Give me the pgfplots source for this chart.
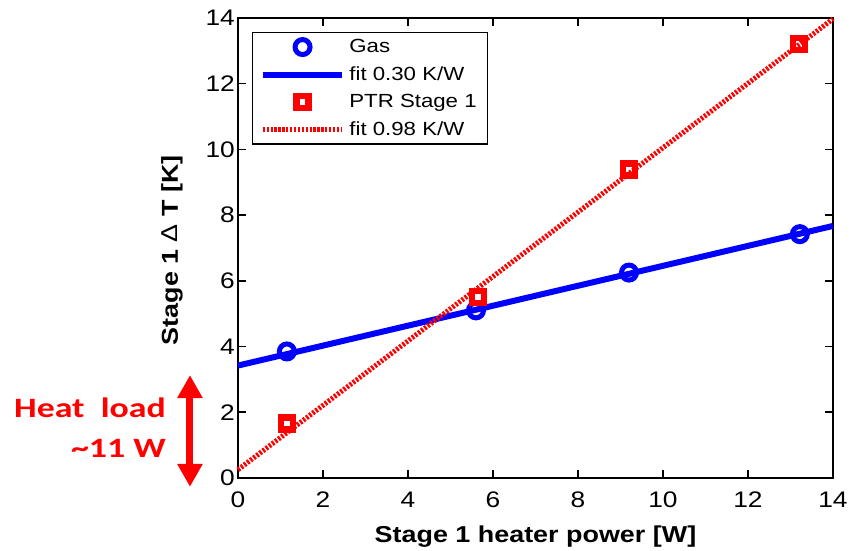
\documentclass[border=0pt]{standalone}
\usepackage{fontspec}
\setmainfont{Liberation Sans}[FakeStretch=1.17]
\newfontfamily\calibri{Carlito}[FakeStretch=1.28]
\usepackage{pgfplots}
\pgfplotsset{compat=1.18}
\usetikzlibrary{arrows.meta}
\definecolor{myblue}{RGB}{0,0,255}
\definecolor{myred}{RGB}{255,0,0}
\pgfplotsset{
  markleg/.style={legend image code/.code={\draw[##1] plot coordinates {(1.4cm,0cm)};}},
  lineleg/.style={legend image code/.code={\draw[##1] plot coordinates {(0cm,0cm) (2.8cm,0cm)};}},
}
\begin{document}
\begin{tikzpicture}
\begin{axis}[
  scale only axis,
  width=595pt, height=460pt,
  xmin=0, xmax=14, ymin=0, ymax=14,
  xtick={0,2,...,14}, ytick={0,2,...,14},
  tick align=inside,
  major tick length=8pt,
  axis line style={line width=1.5pt},
  every tick/.style={line width=1.5pt, black},
  /pgf/number format/assume math mode=true,
  tick label style={font=\fontsize{22.5}{26}\selectfont},
  xticklabel style={anchor=center, yshift=-22pt, inner sep=0pt},
  yticklabel style={anchor=east, xshift=-3pt, inner sep=0pt},
  xlabel={\bfseries Stage 1 heater power [W]},
  ylabel={\bfseries Stage 1 {\mdseries Δ} T [K]},
  label style={font=\fontsize{23}{27}\selectfont},
  xlabel style={at={(axis description cs:0.5,-0.128)}, anchor=center, inner sep=0pt},
  ylabel style={at={(axis description cs:-0.111,0.495)}, anchor=center, inner sep=0pt},
  clip=false,
  legend cell align=left,
  legend style={at={(0.0235,0.9696)}, anchor=north west, draw=black, line width=1.5pt,
    font=\fontsize{19}{22}\selectfont, row sep=8.5pt, inner xsep=7pt, inner ysep=5pt,
    nodes={inner xsep=4pt}},
]
\addplot[only marks, draw=myblue, mark=o, mark size=7.5pt, line width=5pt, markleg]
  coordinates {(1.15,3.85) (5.6,5.1) (9.2,6.25) (13.22,7.42)};
\addlegendentry{Gas}
\addplot[myblue, line width=6pt, no marks, lineleg] coordinates {(0,3.42) (14,7.67)};
\addlegendentry{fit 0.30 K/W}
\addplot[only marks, draw=myred, fill=white, mark=square, mark size=6pt, line width=6.5pt, markleg]
  coordinates {(1.15,1.65) (5.65,5.5) (9.2,9.38) (13.2,13.2)};
\addlegendentry{PTR Stage 1}
\addplot[myred, line width=5pt, no marks, dash pattern=on 2.3pt off 1.6pt, lineleg] coordinates {(0,0.25) (14,13.97)};
\addlegendentry{fit 0.98 K/W}
\draw[myred, line width=7pt, {Triangle[width=24pt,length=23pt]}-{Triangle[width=24pt,length=23pt]}]
  (axis cs:-1.13,3.13) -- (axis cs:-1.13,-0.27);
\node[anchor=east, text=myred, font=\calibri\bfseries\fontsize{28}{34}\selectfont, inner sep=0pt]
  at (axis cs:-1.694,2.13) {Heat\ \ load};
\node[anchor=east, text=myred, font=\calibri\bfseries\fontsize{28}{34}\selectfont, inner sep=0pt]
  at (axis cs:-1.694,0.91) {\textasciitilde 11 W};
\path (rel axis cs:-0.4,-0.1587) rectangle (rel axis cs:1.0286,1.039);
\end{axis}
\end{tikzpicture}
\end{document}
